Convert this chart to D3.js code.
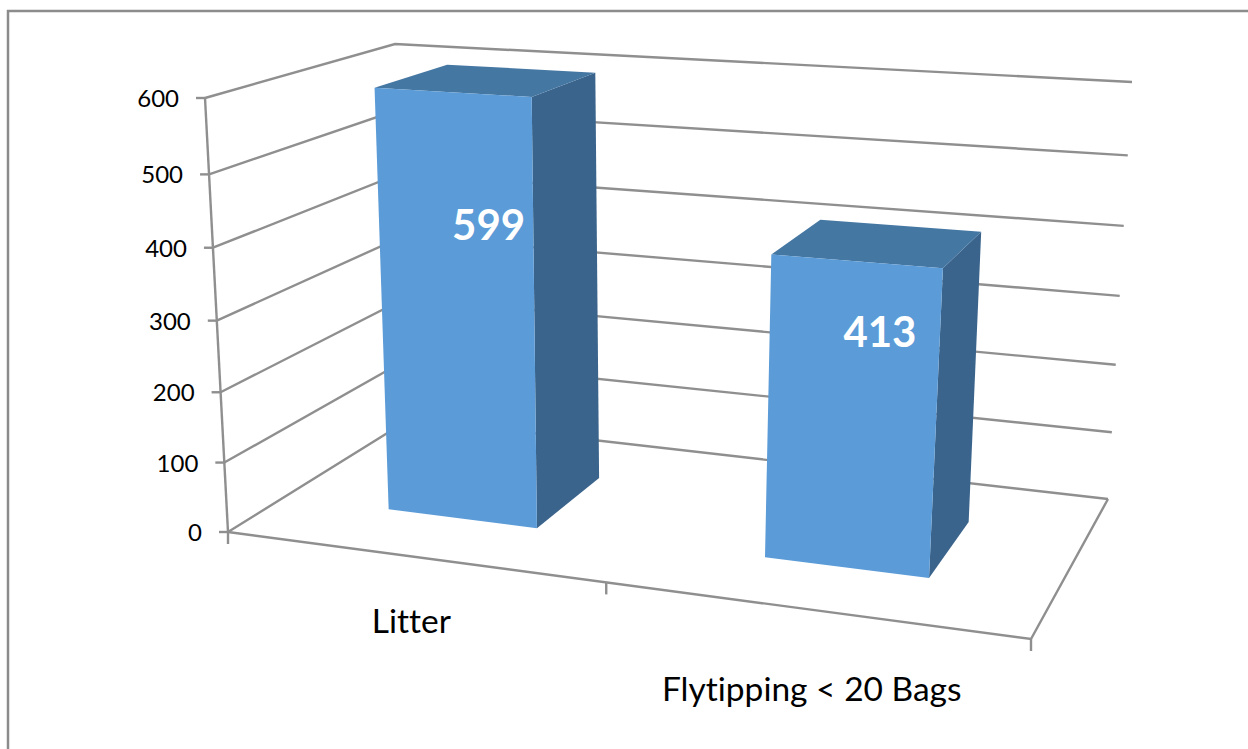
<!DOCTYPE html>
<html><head><meta charset="utf-8">
<script src="https://cdn.jsdelivr.net/npm/d3@7"></script>
<style>html,body{margin:0;padding:0;background:#fff;overflow:hidden}text{font-family:Lato,sans-serif;font-variant-ligatures:none}</style>
</head><body><svg id="c" width="1248" height="749"></svg>
<script>
const categories = ["Litter", "Flytipping < 20 Bags"];
const values = [599, 413];
const valueTicks = [0, 100, 200, 300, 400, 500, 600];
// perspective fractions of wall height at each tick
const tickFractions = [0, 0.160, 0.322, 0.487, 0.655, 0.824, 1];
const labelLift = [0.65, 0.70];
const labelNudge = [-2, 4];
const categoryDrop = [77, 91];

// chart box corners on screen
const floorQuad = [[228,532],[1031,639],[1108,499],[410,419]];
const ceilingQuad = [[205,98],[1063,150],[1132,82],[395,44]];

function quadMap(q){
  const [[x0,y0],[x1,y1],[x2,y2],[x3,y3]] = q;
  const dx1=x1-x2, dx2=x3-x2, sx=x0-x1+x2-x3;
  const dy1=y1-y2, dy2=y3-y2, sy=y0-y1+y2-y3;
  const den=dx1*dy2-dx2*dy1;
  const g=(sx*dy2-dx2*sy)/den, h=(dx1*sy-sx*dy1)/den;
  const a=x1-x0+g*x1, b=x3-x0+h*x3, d=y1-y0+g*y1, e=y3-y0+h*y3;
  return (u,v)=>{const w=g*u+h*v+1;return [(a*u+b*v+x0)/w,(d*u+e*v+y0)/w];};
}
const floorAt = quadMap(floorQuad), ceilAt = quadMap(ceilingQuad);
const yScale = d3.scaleLinear().domain(valueTicks).range(tickFractions);
const xBand = d3.scaleBand().domain(categories).range([-0.0025,0.9975]).paddingInner(0.594).paddingOuter(0.297);
const zScale = d3.scaleLinear().domain([0,1]).range([0.285,0.70]);
function P(u,d,val){
  const a=floorAt(u,d), b=ceilAt(u,d), t=yScale(val);
  return [a[0]+(b[0]-a[0])*t, a[1]+(b[1]-a[1])*t];
}
const svg=d3.select("#c");
const line=d3.line();
const GRID="#8f8f8f";
const path=(pts)=>svg.append("path").attr("d",line(pts)).attr("fill","none").attr("stroke",GRID).attr("stroke-width",2.4);

// outer frame
svg.append("path").attr("d",line([[8,749],[8,11],[1248,11]])).attr("fill","none").attr("stroke","#8c8c8c").attr("stroke-width",2.5);

// walls gridlines
valueTicks.forEach(v=>{
  path([P(0,0,v),P(0,1,v),P(1,1,v)]);
  const p=P(0,0,v);
  path([[p[0]-9,p[1]],p]);
  svg.append("text").attr("x",p[0]-26).attr("y",p[1]+9).attr("text-anchor","end")
     .attr("font-size",24).attr("fill","#000").text(v);
});
path([P(0,0,0),P(0,0,600)]);
path([P(0,0,0),P(1,0,0),P(1,1,0)]);
// category ticks
const midU=(xBand(categories[0])+xBand(categories[1])+xBand.bandwidth())/2;
[0,midU,1].forEach(u=>{const p=P(u,0,0);path([p,[p[0],p[1]+12]]);});

// bars
categories.forEach((c,i)=>{
  const v=values[i], u0=xBand(c), u1=u0+xBand.bandwidth(), d0=zScale(0), d1=zScale(1);
  const face=(pts,fill)=>svg.append("path").attr("d",line(pts)+"Z").attr("fill",fill);
  face([P(u1,d0,0),P(u1,d1,0),P(u1,d1,v),P(u1,d0,v)],"#3b648c");
  face([P(u0,d0,v),P(u1,d0,v),P(u1,d1,v),P(u0,d1,v)],"#4577a3");
  face([P(u0,d0,0),P(u1,d0,0),P(u1,d0,v),P(u0,d0,v)],"#5b9bd7");
  const um=(u0+u1)/2, dm=(d0+d1)/2;
  const f=floorAt(um,dm), top=P(um,dm,v), lp=[f[0]+(top[0]-f[0])*labelLift[i], f[1]+(top[1]-f[1])*labelLift[i]];
  svg.append("text").attr("x",lp[0]+labelNudge[i]).attr("y",lp[1]+15).attr("text-anchor","middle")
     .attr("font-size",42).attr("font-weight",700).attr("fill","#fff").text(v);
  const fp=P(um,0,0);
  svg.append("text").attr("x",fp[0]).attr("y",fp[1]+categoryDrop[i]).attr("text-anchor","middle")
     .attr("font-size",33.5).attr("fill","#000").text(c);
});
</script></body></html>
